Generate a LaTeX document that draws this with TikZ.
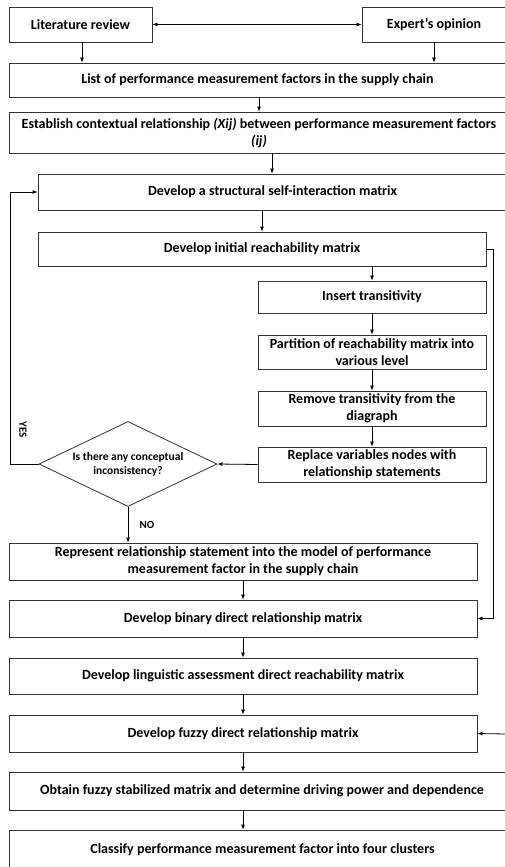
\documentclass[tikz,border=0pt]{standalone}
\usepackage{fontspec}
\setmainfont{Carlito}
\usetikzlibrary{
    positioning,
    arrows.meta,
    shapes.geometric
}

\begin{document}
\begin{tikzpicture}[
    x=1pt, y=1pt,
    font=\fontsize{14}{17}\selectfont\bfseries,
    box/.style={
        draw=black!80,
        line width=0.8pt,
        align=center,
        inner sep=2pt
    },
    decision/.style={
        diamond,
        draw=black!80,
        line width=0.8pt,
        aspect=2.1,
        align=center,
        inner sep=0pt,
        font=\fontsize{11.5}{14}\selectfont\bfseries
    },
    arrow/.style={-{Latex[length=5pt,width=4pt]}, line width=0.8pt},
    tag/.style={font=\fontsize{11}{13}\selectfont\bfseries}
]

% Set bounding box to the reference size
\useasboundingbox (0,0) rectangle (504,-867);

% ================= INPUTS =================
\node[box, minimum width=143, minimum height=35] (lit) at (80.5,-24.5)
{Literature review};
\node[box, minimum width=144, minimum height=35] (expert) at (434,-24.5)
{Expert’s opinion};

\node[box, minimum width=497, minimum height=34] (list) at (257.5,-80)
{List of performance measurement factors in the supply chain};

\node[box, minimum width=500, minimum height=41] (estab) at (259,-132.5)
{Establish contextual relationship \textit{(Xij)} between performance measurement factors\\
\textit{(ij)}};

% ================= ISM =================
\node[box, minimum width=469, minimum height=36] (ssim) at (272.5,-192)
{Develop a structural self-interaction matrix};

\node[box, minimum width=448, minimum height=34] (irm) at (262,-249)
{Develop initial reachability matrix};

\node[box, minimum width=228, minimum height=32] (ins) at (372,-297)
{Insert transitivity};
\node[box, minimum width=228, minimum height=34] (part) at (372,-352)
{Partition of reachability matrix into\\ various level};
\node[box, minimum width=228, minimum height=35] (rem) at (372,-408.5)
{Remove transitivity from the\\ diagraph};
\node[box, minimum width=228, minimum height=35] (rep) at (372,-464.5)
{Replace variables nodes with\\ relationship statements};

\node[decision, minimum width=178, minimum height=85] (check) at (128,-464)
{Is there any conceptual\\ inconsistency?};

\node[box, minimum width=468, minimum height=37] (model) at (243,-561.5)
{Represent relationship statement into the model of performance\\
measurement factor in the supply chain};

% ================= FUZZY MICMAC =================
\node[box, minimum width=468, minimum height=37] (binary) at (243,-618.5)
{Develop binary direct relationship matrix};
\node[box, minimum width=468, minimum height=36] (ling) at (243,-676)
{Develop linguistic assessment direct reachability matrix};
\node[box, minimum width=468, minimum height=37] (fuzzy) at (243,-733.5)
{Develop fuzzy direct relationship matrix};
\node[box, minimum width=506, minimum height=38] (stab) at (262,-791)
{Obtain fuzzy stabilized matrix and determine driving power and dependence};
\node[box, minimum width=507, minimum height=40] (classify) at (262.5,-850)
{Classify performance measurement factor into four clusters};

\coordinate (loop) at (10,-464);
\coordinate (fin) at (506,-734);

% ================= ARROWS =================
\draw[{Latex[length=5pt,width=4pt]}-{Latex[length=5pt,width=4pt]}, line width=0.8pt] (lit.east) -- (expert.west);
\draw[arrow] ([xshift=1.5pt]lit.south) -- ([xshift=1.5pt]lit.south |- list.north);
\draw[arrow] (expert.south) -- (expert.south |- list.north);
\draw[arrow] ([xshift=1.5pt]list.south) -- ([xshift=1.5pt]list.south |- estab.north);
\draw[arrow] ([xshift=13pt]estab.south) -- ([xshift=13pt]estab.south |- ssim.north);
\draw[arrow] ([xshift=-10.5pt]ssim.south) -- ([xshift=-10.5pt]ssim.south |- irm.north);
\draw[arrow] (ins.north |- irm.south) -- (ins.north);
\draw[arrow] (ins) -- (part);
\draw[arrow] (part) -- (rem);
\draw[arrow] (rem) -- (rep);
\draw[arrow] (rep.west) -- (check.east);

\draw[arrow] (check.west) -- (loop) |- (ssim.west);
\node[tag, rotate=-90] (yes) at (23,-430) {YES};
\draw[arrow] (check.south) -- (check.south |- model.north)
    node[tag, pos=0.5, right=8pt] (no) {NO};

\draw[arrow] (irm.east) -- ++(7,0) |- (binary.east);

\draw[arrow] (model) -- (binary);
\draw[arrow] (binary) -- (ling);
\draw[arrow] (ling) -- (fuzzy);
\draw[arrow] (fuzzy.south) -- (fuzzy.south |- stab.north);
\draw[arrow] (fuzzy.south |- stab.south) -- (fuzzy.south |- classify.north);
\draw[arrow] (fin) -- (fuzzy.east);

\end{tikzpicture}
\end{document}
